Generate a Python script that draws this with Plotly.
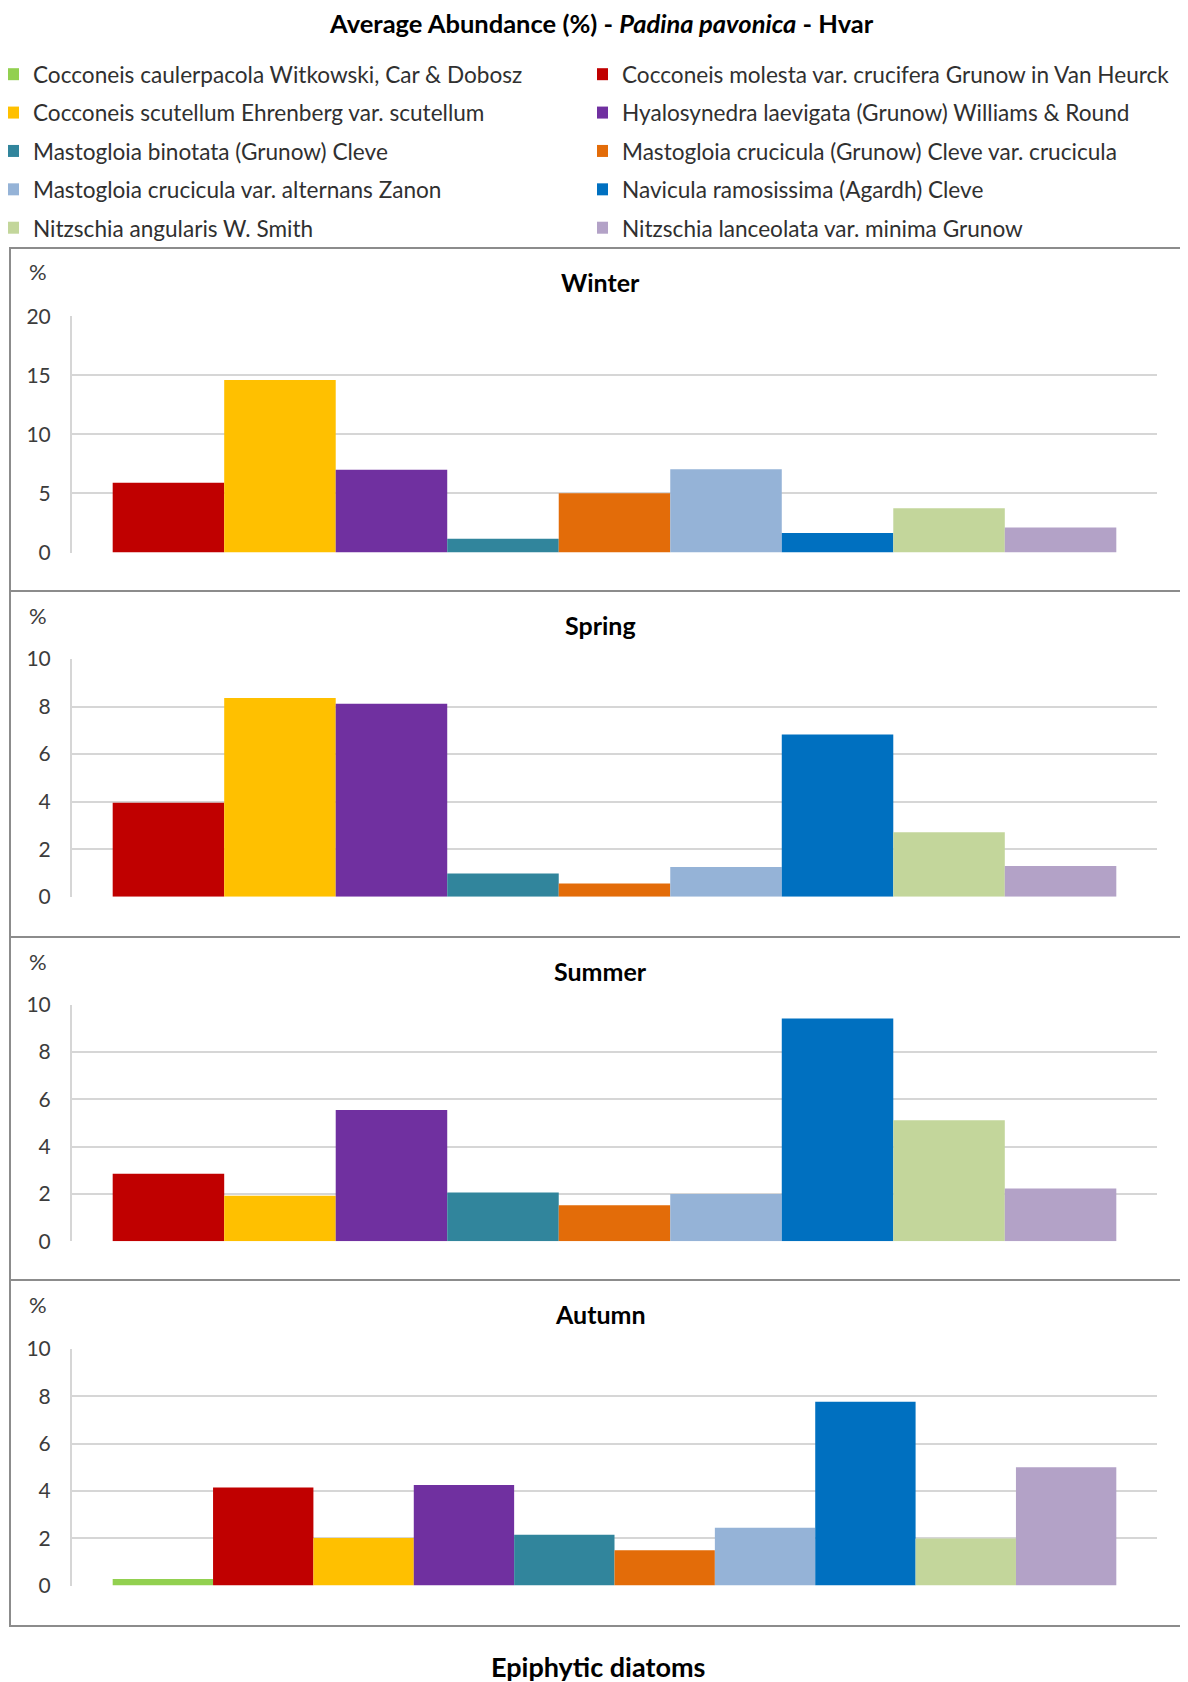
import plotly.graph_objects as go

# --- data ---
species = [
    "Cocconeis caulerpacola Witkowski, Car & Dobosz",
    "Cocconeis molesta var. crucifera Grunow in Van Heurck",
    "Cocconeis scutellum Ehrenberg var. scutellum",
    "Hyalosynedra laevigata (Grunow) Williams & Round",
    "Mastogloia binotata (Grunow) Cleve",
    "Mastogloia crucicula (Grunow) Cleve var. crucicula",
    "Mastogloia crucicula var. alternans Zanon",
    "Navicula ramosissima (Agardh) Cleve",
    "Nitzschia angularis W. Smith",
    "Nitzschia lanceolata var. minima Grunow",
]
colors = ["#92D050", "#C00000", "#FFC000", "#7030A0", "#31859C",
          "#E36C09", "#95B3D7", "#0070C0", "#C3D69B", "#B3A2C7"]

seasons = ["Winter", "Spring", "Summer", "Autumn"]
winter = [None, 5.9, 14.6, 7.0, 1.17, 5.02, 7.05, 1.66, 3.75, 2.12]
spring = [None, 3.96, 8.36, 8.12, 0.98, 0.56, 1.25, 6.83, 2.71, 1.30]
summer = [None, 2.85, 1.92, 5.55, 2.06, 1.52, 2.0, 9.41, 5.11, 2.23]
autumn = [0.27, 4.14, 2.01, 4.25, 2.15, 1.49, 2.44, 7.77, 1.99, 5.0]
values = [winter, spring, summer, autumn]
y_max = [20, 10, 10, 10]
y_step = [5, 2, 2, 2]

# --- page geometry, in pixels of the 1188 x 1682 page ---
# the html body keeps its default 8px margin, so the figure sits at (8, 8)
OFF = 8
W, H = 1180, 1674
plot_rows = [(316.3, 552.5), (659.0, 896.8), (1004.5, 1241.3), (1349.0, 1585.5)]
panel_edges = [248, 591, 937, 1280, 1626]
FONT = "Lato, 'Open Sans', sans-serif"


def fx(px):
    return (px - OFF) / W


def fy(px):
    return 1 - (px - OFF) / H


fig = go.Figure()

for i, season in enumerate(seasons):
    ax = "" if i == 0 else str(i + 1)
    for j, name in enumerate(species):
        v = values[i][j]
        if v is None:
            continue
        fig.add_trace(go.Bar(
            x=[season], y=[v], name=name,
            marker=dict(color=colors[j], line=dict(width=0)),
            xaxis="x" + ax, yaxis="y" + ax,
            legendgroup=name,
            showlegend=(season == "Autumn"),
            legend="legend" if j % 2 == 0 else "legend2",
        ))

    top, bottom = plot_rows[i]
    fig.update_layout({
        "xaxis" + ax: dict(
            domain=[fx(72), fx(1157)], anchor="y" + ax,
            showticklabels=False, showgrid=False, zeroline=False,
            ticks="", fixedrange=True, automargin=False,
        ),
        "yaxis" + ax: dict(
            domain=[fy(bottom), fy(top)], anchor="x" + ax,
            range=[0, y_max[i]], dtick=y_step[i],
            showgrid=True, gridcolor="#d6d6d6", gridwidth=2,
            zeroline=False, showline=True, linecolor="#d6d6d6", linewidth=2,
            ticks="", ticklabelstandoff=15, automargin=False,
            tickfont=dict(family=FONT, size=21, color="#3c3c3c"),
            fixedrange=True,
        ),
    })

# panel frames
shapes = []
for k in range(4):
    shapes.append(dict(
        type="rect", xref="paper", yref="paper",
        x0=fx(10), x1=1.01, y0=fy(panel_edges[k + 1]), y1=fy(panel_edges[k]),
        line=dict(color="#8c8c8c", width=2), layer="below",
    ))

annotations = [
    dict(text="<b>Average Abundance (%) - <i>Padina pavonica</i> - Hvar</b>",
         x=fx(601), y=fy(23), xref="paper", yref="paper", showarrow=False,
         xanchor="center", yanchor="middle",
         font=dict(family=FONT, size=25.5, color="#000000")),
    dict(text="<b>Epiphytic diatoms</b>",
         x=fx(598), y=fy(1666), xref="paper", yref="paper", showarrow=False,
         xanchor="center", yanchor="middle",
         font=dict(family=FONT, size=27, color="#000000")),
]
for i, season in enumerate(seasons):
    annotations.append(dict(
        text="<b>" + season + "</b>", x=fx(600), y=fy(panel_edges[i] + 34),
        xref="paper", yref="paper", showarrow=False,
        xanchor="center", yanchor="middle",
        font=dict(family=FONT, size=25, color="#000000")))
    annotations.append(dict(
        text="%", x=fx(38), y=fy(panel_edges[i] + 24),
        xref="paper", yref="paper", showarrow=False,
        xanchor="center", yanchor="middle",
        font=dict(family=FONT, size=22, color="#3c3c3c")))

legend_style = dict(
    orientation="v", xanchor="left", yanchor="top",
    y=fy(53), tracegroupgap=6, indentation=-15, bgcolor="rgba(0,0,0,0)",
    font=dict(family=FONT, size=22.6, color="#303030"),
    itemclick=False, itemdoubleclick=False,
)

fig.update_layout(
    width=W, height=H,
    margin=dict(l=0, r=0, t=0, b=0, autoexpand=False),
    paper_bgcolor="white", plot_bgcolor="white",
    barmode="group", bargap=0.075, bargroupgap=0,
    showlegend=True,
    legend=dict(legend_style, x=0),
    legend2=dict(legend_style, x=fx(597)),
    shapes=shapes,
    annotations=annotations,
)

fig.write_html("out.html")
